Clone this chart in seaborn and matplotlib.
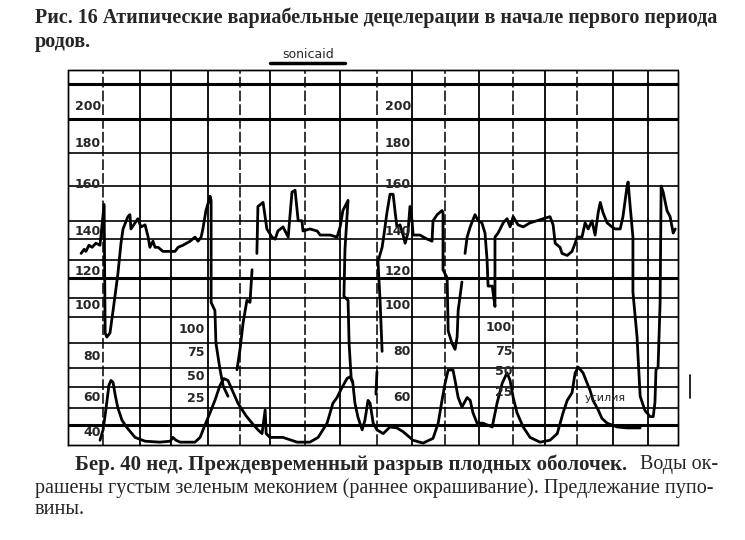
import pandas as pd
import seaborn as sns
import matplotlib.pyplot as plt
from matplotlib.lines import Line2D

# fetal heart rate trace (minutes, bpm), split where the pen trace breaks
fhr_seg_a = [(0.38, 128), (0.47, 130), (0.52, 129), (0.61, 132), (0.70, 131), (0.81, 133), (0.93, 132),
             (1.05, 152), (1.08, 89), (1.13, 87), (1.22, 89), (1.31, 100), (1.45, 118), (1.54, 133),
             (1.60, 140), (1.74, 146), (1.80, 147), (1.83, 140), (1.95, 143), (2.03, 145), (2.12, 141),
             (2.24, 142), (2.33, 136), (2.38, 131), (2.47, 134), (2.53, 131), (2.62, 131), (2.76, 129),
             (2.91, 129), (3.11, 129), (3.20, 131), (3.34, 132), (3.55, 134), (3.69, 136), (3.78, 134),
             (3.87, 136), (3.92, 140), (4.01, 149), (4.13, 156), (4.16, 154), (4.16, 104), (4.27, 100),
             (4.30, 84), (4.42, 71), (4.51, 63), (4.65, 58)]
fhr_seg_b = [(4.91, 71), (5.00, 81), (5.09, 94), (5.20, 105), (5.29, 104), (5.35, 120)]
fhr_seg_c = [(5.49, 128), (5.52, 151), (5.67, 153), (5.78, 140), (5.93, 136), (6.02, 135), (6.10, 139),
             (6.25, 141), (6.40, 136), (6.51, 158), (6.60, 159), (6.69, 144), (6.80, 144), (6.83, 139),
             (7.03, 140), (7.24, 139), (7.33, 137), (7.62, 137), (7.82, 136), (7.91, 141), (7.99, 149),
             (8.14, 154), (8.05, 130), (8.02, 107), (8.14, 105), (8.17, 84), (8.23, 67), (8.28, 65)]
fhr_seg_d = [(8.95, 59), (8.98, 70)]
fhr_seg_e = [(9.13, 80), (9.07, 105), (9.01, 124), (9.13, 131), (9.19, 138), (9.27, 148), (9.36, 157),
             (9.45, 157), (9.51, 148), (9.56, 141), (9.65, 142), (9.74, 137), (9.80, 133), (9.88, 138),
             (9.94, 151), (10.00, 144), (10.03, 137), (10.23, 137), (10.44, 135), (10.58, 134),
             (10.61, 144), (10.73, 147), (10.87, 149), (10.90, 148), (10.90, 120), (11.02, 116),
             (11.05, 90), (11.16, 84), (11.25, 81), (11.31, 87), (11.34, 100), (11.45, 114)]
fhr_seg_f = [(11.54, 128), (11.60, 136), (11.69, 141), (11.83, 147), (11.92, 144), (12.03, 143),
             (12.12, 138), (12.18, 125), (12.21, 112), (12.33, 112), (12.41, 102), (12.41, 136),
             (12.50, 138), (12.65, 143), (12.76, 145), (12.85, 141), (12.94, 146), (13.08, 142),
             (13.23, 141), (13.43, 143), (13.63, 144), (13.81, 145), (14.01, 146), (14.10, 142),
             (14.16, 133), (14.30, 131), (14.36, 128), (14.51, 127), (14.65, 129), (14.74, 133),
             (14.80, 136), (14.94, 136), (15.03, 143), (15.12, 140), (15.23, 144), (15.32, 137),
             (15.41, 148), (15.47, 153), (15.55, 148), (15.67, 143), (15.81, 141), (15.90, 140),
             (16.05, 140), (16.13, 146), (16.25, 161), (16.28, 163), (16.34, 151), (16.42, 136),
             (16.42, 109), (16.54, 87), (16.57, 77), (16.63, 58), (16.77, 51), (16.92, 48), (17.01, 48),
             (17.06, 55), (17.09, 71), (17.15, 72), (17.21, 104), (17.24, 161), (17.30, 158),
             (17.41, 149), (17.50, 146), (17.59, 138), (17.65, 140)]

# uterine activity (minutes, toco units)
toco = [(0.93, -17), (1.02, -6), (1.10, 15), (1.19, 41), (1.25, 46), (1.31, 44), (1.37, 31), (1.45, 17),
        (1.57, 4), (1.72, -4), (1.95, -14), (2.24, -18), (2.67, -19), (2.97, -18), (3.05, -14),
        (3.14, -17), (3.26, -19), (3.69, -19), (3.84, -14), (3.98, -1), (4.13, 12), (4.27, 25),
        (4.42, 41), (4.53, 48), (4.65, 46), (4.77, 36), (4.94, 22), (5.17, 9), (5.35, 1), (5.52, -6),
        (5.64, -10), (5.73, 15), (5.76, -10), (5.87, -14), (6.25, -14), (6.66, -19), (7.03, -19),
        (7.27, -14), (7.53, 1), (7.70, 22), (7.82, 28), (7.97, 39), (8.11, 48), (8.20, 50), (8.28, 43),
        (8.34, 22), (8.43, 7), (8.55, -6), (8.63, 4), (8.72, 25), (8.78, 22), (8.87, 1), (8.98, -6),
        (9.16, -10), (9.36, -3), (9.56, -4), (9.74, -8), (10.03, -17), (10.32, -20), (10.61, -15),
        (10.76, 1), (10.87, 25), (10.96, 43), (11.05, 57), (11.19, 57), (11.25, 46), (11.34, 28),
        (11.45, 18), (11.60, 28), (11.69, 25), (11.77, 12), (11.89, 1), (12.06, 1), (12.33, -3),
        (12.47, 22), (12.62, 43), (12.76, 54), (12.85, 46), (12.94, 28), (13.05, 12), (13.23, -3),
        (13.43, -14), (13.72, -19), (14.01, -17), (14.22, -10), (14.39, 12), (14.51, 25), (14.65, 33),
        (14.74, 54), (14.83, 60), (14.97, 54), (15.09, 43), (15.17, 36), (15.26, 25), (15.41, 15),
        (15.52, 6), (15.67, 1), (15.96, -3), (16.25, -4), (16.63, -4)]

# paper grid
v_solid = [2.09, 2.99, 4.07, 5.87, 7.91, 10.00, 11.95, 13.87, 15.84, 16.86]
v_dashed = [1.02, 5.00, 6.89, 8.98, 10.96, 12.94, 14.80]
h_thick = [211, 194, 116, 44]
h_thin = [177, 161, 144, 135, 125, 106, 97, 84, 72, 62.5, 52]

# printed scale labels
fhr_labels = ["200", "180", "160", "140", "120", "100", "80", "60", "40"]
fhr_label_y1 = [200, 182, 161.6, 138.5, 119, 102.7, 77.7, 57.6, 40]
fhr_label_y2 = [200, 182, 161.6, 138.5, 119, 102.3, 79.7, 57.6]
toco_labels = ["100", "75", "50", "25"]
toco_label_y1 = [100, 75, 50, 27]
toco_label_y2 = [102, 76, 55, 33]

rows = []
for name, seg in [("a", fhr_seg_a), ("b", fhr_seg_b), ("c", fhr_seg_c),
                  ("d", fhr_seg_d), ("e", fhr_seg_e), ("f", fhr_seg_f)]:
    for t, b in seg:
        rows.append({"t": t, "bpm": b, "seg": name})
dfFhr = pd.DataFrame(rows)
dfToco = pd.DataFrame(toco, columns=["t", "val"])

sns.set_style("white")
plt.rcParams['font.family'] = ['DejaVu Sans']

fig = plt.figure(figsize=(7.45, 5.40), dpi=100)
ax = fig.add_axes([68/745, 95/540, 610/745, 375/540])

for x in v_solid:
    ax.axvline(x, color="black", lw=1.3, zorder=1)
for x in v_dashed:
    ax.axvline(x, color="black", lw=1.1, ls=(0, (7, 2)), zorder=1)
for y in h_thick:
    ax.axhline(y, color="black", lw=2.2, zorder=1)
for y in h_thin:
    ax.axhline(y, color="black", lw=1.2, zorder=1)

sns.lineplot(data=dfFhr, x="t", y="bpm", units="seg", estimator=None, sort=False,
             color="black", lw=2.0, ax=ax, legend=False)
ax.set_xlim(0, 17.73)
ax.set_ylim(34.1, 217.9)

for lab, y in zip(fhr_labels, fhr_label_y1):
    ax.text(0.96, y, lab, ha="right", va="center", fontsize=9, fontweight="bold")
for lab, y in zip(fhr_labels, fhr_label_y2):
    ax.text(9.97, y, lab, ha="right", va="center", fontsize=9, fontweight="bold")

ax2 = ax.twinx()
sns.lineplot(data=dfToco, x="t", y="val", estimator=None, sort=False,
             color="black", lw=2.0, ax=ax2, legend=False)
ax2.set_ylim(-22, 373)
for lab, y in zip(toco_labels, toco_label_y1):
    ax2.text(3.98, y, lab, ha="right", va="center", fontsize=9, fontweight="bold")
for lab, y in zip(toco_labels, toco_label_y2):
    ax2.text(12.91, y, lab, ha="right", va="center", fontsize=9, fontweight="bold")
ax2.text(15.03, 28, "усилия", ha="left", va="center", fontsize=8)

for a in (ax, ax2):
    a.set_xticks([])
    a.set_yticks([])
    a.set_xlabel("")
    a.set_ylabel("")
    for s in a.spines.values():
        s.set_linestyle((0, (1, 1)))
        s.set_linewidth(1)
        s.set_color("black")

# header and caption
serif = "Liberation Serif"
fig.text(35/745, 1 - 18/540, "Рис. 16 Атипические вариабельные децелерации в начале первого периода",
         fontsize=14.5, fontweight="bold", family=serif, va="center")
fig.text(35/745, 1 - 42/540, "родов.", fontsize=14.5, fontweight="bold", family=serif, va="center")
fig.text(308/745, 1 - 54/540, "sonicaid", fontsize=9, ha="center", va="center")
fig.add_artist(Line2D([270/745, 345/745], [1 - 63/540, 1 - 63/540], color="black", lw=2.5))
fig.add_artist(Line2D([690/745, 690/745], [1 - 375/540, 1 - 398/540], color="black", lw=1.2))

fig.text(75/745, 1 - 465/540, "Бер. 40 нед. Преждевременный разрыв плодных оболочек.",
         fontsize=15, fontweight="bold", family=serif, va="center")
fig.text(718/745, 1 - 465/540, "Воды ок-", fontsize=14.5, family=serif, va="center", ha="right")
fig.text(35/745, 1 - 488/540, "рашены густым зеленым меконием (раннее окрашивание). Предлежание пупо-",
         fontsize=14.5, family=serif, va="center")
fig.text(35/745, 1 - 510/540, "вины.", fontsize=14.5, family=serif, va="center")

fig.savefig("out.png", dpi=100)
